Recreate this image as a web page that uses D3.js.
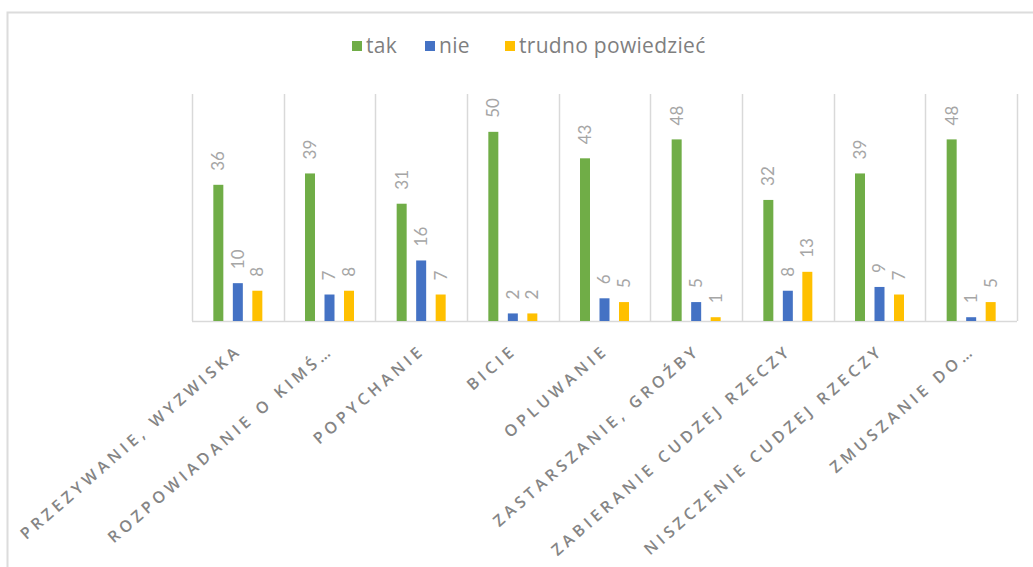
<!DOCTYPE html>
<html>
<head>
<meta charset="utf-8">
<script src="https://cdn.jsdelivr.net/npm/d3@7"></script>
<style>
  html, body { margin: 0; padding: 0; background: #fff; }
  svg { display: block; }
</style>
</head>
<body>
<svg id="chart" width="1033" height="567"></svg>
<script>
const categories = [
  "PRZEZYWANIE, WYZWISKA",
  "ROZPOWIADANIE O KIMŚ…",
  "POPYCHANIE",
  "BICIE",
  "OPLUWANIE",
  "ZASTARSZANIE, GROŹBY",
  "ZABIERANIE CUDZEJ RZECZY",
  "NISZCZENIE CUDZEJ RZECZY",
  "ZMUSZANIE DO…"
];
const seriesNames = ["tak", "nie", "trudno powiedzieć"];
const takValues = [36, 39, 31, 50, 43, 48, 32, 39, 48];
const nieValues = [10, 7, 16, 2, 6, 5, 8, 9, 1];
const trudnoValues = [8, 8, 7, 2, 5, 1, 13, 7, 5];
const seriesColors = ["#70AD47", "#4472C4", "#FFC000"];

const seriesValues = [takValues, nieValues, trudnoValues];

const svg = d3.select("#chart");
const W = 1033, H = 567;

// outer frame
svg.append("path")
  .attr("d", `M7.5,${H} L7.5,12.5 L${W},12.5`)
  .attr("fill", "none")
  .attr("stroke", "#dcdcdc")
  .attr("stroke-width", 2);

const plot = { left: 192, right: 1017, top: 94, bottom: 321 };

const x0 = d3.scaleBand().domain(categories).range([plot.left, plot.right]).padding(0);
const bw = x0.bandwidth();
const x1 = d3.scalePoint().domain(seriesNames).range([bw / 2 - 19.5, bw / 2 + 19.5]);
const y = d3.scaleLinear().domain([0, 60]).range([plot.bottom, plot.top]);

// vertical separators
const seps = categories.map(c => x0(c)).concat([plot.right]);
svg.append("g").selectAll("line").data(seps).join("line")
  .attr("x1", d => Math.round(d) + 0.5).attr("x2", d => Math.round(d) + 0.5)
  .attr("y1", plot.top).attr("y2", plot.bottom)
  .attr("stroke", "#d9d9d9").attr("stroke-width", 1.5);

// baseline
svg.append("line")
  .attr("x1", plot.left).attr("x2", plot.right)
  .attr("y1", plot.bottom + 0.5).attr("y2", plot.bottom + 0.5)
  .attr("stroke", "#d9d9d9").attr("stroke-width", 1.5);

const barW = 10;
const groups = svg.append("g").selectAll("g").data(categories).join("g")
  .attr("transform", d => `translate(${x0(d)},0)`);

const cells = groups.selectAll("g.cell")
  .data((c, i) => seriesNames.map((s, j) => ({ s, j, v: seriesValues[j][i] })))
  .join("g").attr("class", "cell");

cells.append("rect")
  .attr("x", d => x1(d.s) - barW / 2)
  .attr("width", barW)
  .attr("y", d => y(d.v))
  .attr("height", d => y(0) - y(d.v))
  .attr("fill", d => seriesColors[d.j]);

cells.append("text")
  .attr("transform", d => `translate(${x1(d.s)},${y(d.v) - 14}) rotate(-90)`)
  .attr("dy", "0.35em")
  .attr("text-anchor", "start")
  .attr("font-family", "Lato, 'Open Sans', sans-serif")
  .attr("font-size", 17)
  .attr("fill", "#a6a6a6")
  .text(d => d.v);

// x axis labels
const xAxis = d3.axisBottom(x0).tickSize(0).tickPadding(0);
const gx = svg.append("g").attr("transform", `translate(0,${plot.bottom})`).call(xAxis);
gx.select(".domain").remove();
gx.selectAll(".tick text")
  .attr("font-family", "'Open Sans', sans-serif")
  .attr("font-size", 16)
  .attr("font-weight", 600)
  .attr("letter-spacing", "4.1px")
  .attr("fill", "#858585")
  .attr("text-anchor", "end")
  .attr("dy", 0)
  .attr("transform", "translate(5,31) rotate(-41)");

// legend
const legendX = [352, 425, 505];
const legend = svg.append("g").selectAll("g").data(seriesNames).join("g")
  .attr("transform", (d, i) => `translate(${legendX[i]},41)`);
legend.append("rect").attr("width", 10).attr("height", 10)
  .attr("fill", (d, i) => seriesColors[i]);
legend.append("text")
  .attr("x", 14).attr("y", 12)
  .attr("font-family", "'Open Sans', sans-serif")
  .attr("font-size", 21)
  .attr("letter-spacing", "0.3px")
  .attr("fill", "#7f7f7f")
  .text(d => d);
</script>
</body>
</html>
